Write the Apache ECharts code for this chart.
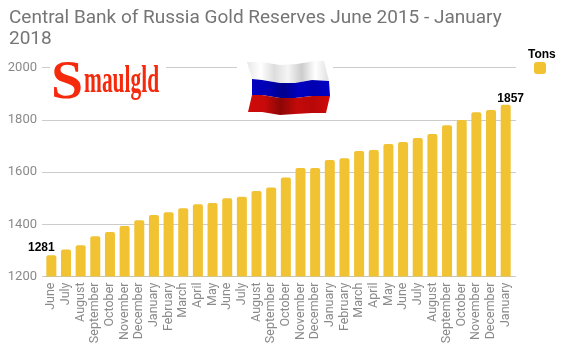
<!DOCTYPE html>
<html><head><meta charset="utf-8">
<style>html,body{margin:0;padding:0;background:#fff}#c{width:573px;height:362px}</style>
<script src="https://cdn.jsdelivr.net/npm/echarts@6/dist/echarts.min.js"></script>
</head><body><div id="c"></div>
<script>
const months = ["June","July","August","September","October","November","December","January","February","March","April","May","June","July","August","September","October","November","December","January","February","March","April","May","June","July","August","September","October","November","December","January"];
const tons = [1281,1303,1320,1354,1370,1393,1415,1435,1446,1461,1477,1481,1500,1505,1527,1541,1579,1615,1615,1646,1653,1680,1684,1707,1715,1730,1745,1779,1799,1829,1837,1857];
const titleText = "Central Bank of Russia Gold Reserves June 2015 - January\n2018";
const boldBlack = {show:true,position:"top",color:"#000",fontFamily:"Liberation Sans",fontWeight:"bold",fontSize:12,distance:2};
const band = (stops)=>new echarts.graphic.LinearGradient(0,0,1,0,stops.map((c,i)=>({offset:i/(stops.length-1),color:c})));
const barData = tons.map((v,i)=> i===0 ? {value:v,label:{...boldBlack,offset:[-10,0]}}
  : i===tons.length-1 ? {value:v,label:{...boldBlack,offset:[5,2]}} : v);
const chart = echarts.init(document.getElementById("c"),null,{renderer:"canvas"});
const gridLine = {color:"#cccccc",width:1};
chart.setOption({
  animation:false,
  backgroundColor:"#fff",
  title:{text:titleText,left:4,top:3,textStyle:{fontFamily:"Roboto",fontWeight:"normal",fontSize:19,color:"#757575",lineHeight:21}},
  legend:{show:true,left:529,top:57,itemWidth:12,itemHeight:12,icon:"roundRect",data:["Tons"],formatter:()=>"",itemGap:0},
  grid:{left:44,top:67.5,width:469,height:209,containLabel:false},
  xAxis:{type:"category",data:months,axisTick:{show:false},axisLine:{lineStyle:{color:"#c4c4c4",width:1}},
    axisLabel:{interval:0,rotate:90,margin:6,fontFamily:"Roboto",fontSize:12.5,color:"#8a8a8a"}},
  yAxis:[
    {type:"value",min:1200,max:2000,interval:200,axisLine:{show:false},axisTick:{show:true,length:2,lineStyle:gridLine},
    splitLine:{lineStyle:gridLine},
    axisLabel:{margin:7,formatter:v=>String(v),fontFamily:"Roboto",fontSize:13,color:"#8a8a8a"}},
    {type:"value",position:"right",min:1200,max:2000,interval:200,axisLine:{show:false},axisTick:{show:true,length:3,lineStyle:gridLine},
    splitLine:{show:false},axisLabel:{show:false}}
  ],
  series:[{name:"Tons",type:"bar",data:barData,barWidth:10,itemStyle:{color:"#f1c232",borderRadius:[2,2,0,0]}}],
  graphic:[
    {type:"text",z:60,left:528,top:49,style:{text:"Tons",fontFamily:"Liberation Sans",fontWeight:"bold",fontSize:12,fill:"#000"}},
    {type:"rect",z:50,shape:{x:50,y:60,width:116,height:50},style:{fill:"#fff"}},
    {type:"rect",z:50,shape:{x:237,y:60,width:96,height:58},style:{fill:"#fff"}},
    {type:"text",z:60,x:51,y:56,scaleX:1.05,style:{text:"S",fontFamily:"Liberation Serif",fontWeight:"bold",fontSize:55,fill:"#f52a0c"}},
    {type:"text",z:60,x:84,y:64,scaleX:.58,style:{text:"maulgld",fontFamily:"Liberation Serif",fontWeight:"bold",fontSize:37,fill:"#f52a0c"}},
    {type:"polygon",z:60,shape:{points:[[247,62],[262,62],[280,65],[297,64],[315,61],[324,61],[329,81],[312,80],[295,83],[280,83],[262,80],[252,79]]},style:{fill:band(["#e8e8e8","#ffffff","#dddddd","#f5f5f5","#cccccc","#ffffff","#e0e0e0"])}},
    {type:"polygon",z:60,shape:{points:[[252,79],[262,80],[280,83],[295,83],[312,80],[329,81],[330,96],[312,96],[295,98],[280,98],[262,95],[252,95]]},style:{fill:band(["#0000c0","#0000b4","#00008c","#0000c0","#0000b0","#0000c8"])}},
    {type:"polygon",z:60,shape:{points:[[252,95],[262,95],[280,98],[295,98],[312,96],[330,96],[326,113],[312,113],[295,114],[280,115],[262,112],[248,112]]},style:{fill:band(["#d00a0a","#c80a0a","#8c0606","#c40a0a","#b80808","#d00a0a"])}}
  ]
});
</script></body></html>
